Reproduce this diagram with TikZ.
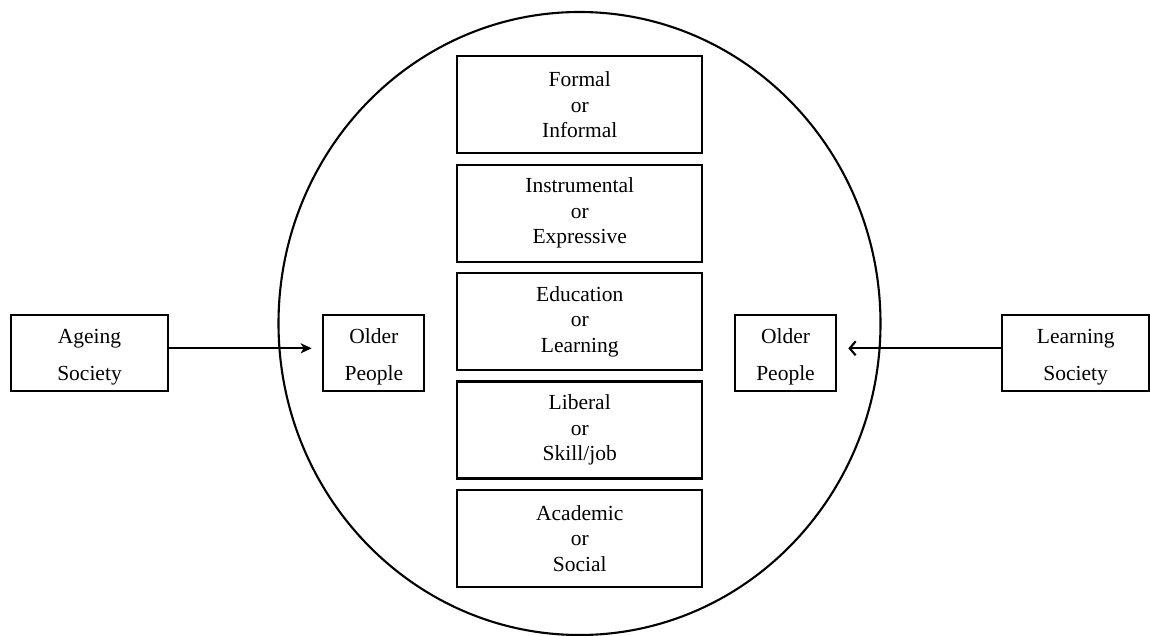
\documentclass[tikz,border=0pt]{standalone}
\usepackage{fontspec}
\setmainfont{Liberation Serif}
\usetikzlibrary{arrows.meta}
\begin{document}
\begin{tikzpicture}[x=1pt,y=-1pt,
  line width=2.1pt,
  every node/.style={inner sep=0pt, outer sep=0pt},
  pairbox/.style={draw, line width=2.1pt, align=center,
    minimum width=244.7pt, minimum height=97pt,
    font=\fontsize{21.5}{25.5}\selectfont},
  sidebox/.style={draw, line width=2.1pt, minimum height=75.7pt},
  sidetext/.style={align=center, yshift=-4pt,
    font=\fontsize{21.5}{37}\selectfont}]
  \useasboundingbox (0,0) rectangle (1150,636);

  % enclosing ring
  \draw (579.5,323.5) ellipse [x radius=301, y radius=311.5];

  % stacked dichotomies
  \node[pairbox] (b1) at (579.7,104.8) {Formal\\or\\Informal};
  \node[pairbox] (b2) at (579.7,213.1) {Instrumental\\or\\Expressive};
  \node[pairbox] (b3) at (579.7,321.6) {Education\\or\\Learning};
  \node[pairbox] (b4) at (579.7,430.0) {Liberal\\or\\Skill/job};
  \node[pairbox] (b5) at (579.7,538.5) {Academic\\or\\Social};

  % side boxes
  \node[sidebox, minimum width=156.4pt] (ageing)   at (89.5,352.9)   {};
  \node[sidebox, minimum width=101pt]   (olderL)   at (373.8,352.9)  {};
  \node[sidebox, minimum width=101pt]   (olderR)   at (785.5,352.9)  {};
  \node[sidebox, minimum width=146.7pt] (learning) at (1075.7,352.9) {};
  \node[sidetext] (ageingtext)   at (ageing.center)   {Ageing\\Society};
  \node[sidetext] (olderLtext)   at (olderL.center)   {Older\\People};
  \node[sidetext] (olderRtext)   at (olderR.center)   {Older\\People};
  \node[sidetext] (learningtext) at (learning.center) {Learning\\Society};

  % arrow tips
  \coordinate (tipL) at (311.7,348.3);
  \coordinate (tipR) at (848.3,348.3);

  \draw[-{Stealth[length=11pt,width=10pt,inset=3pt]}] (ageing.east |- tipL) -- (tipL);
  \draw[-{Straight Barb[length=6pt,width=14pt]}] (learning.west |- tipR) -- (tipR);
\end{tikzpicture}
\end{document}
